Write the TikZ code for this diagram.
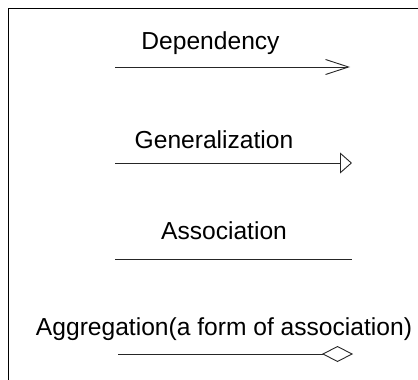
\documentclass[tikz,border=0pt]{standalone}
\usepackage{fontspec}
\setmainfont{Liberation Sans}
\usetikzlibrary{arrows.meta}
\begin{document}
\begin{tikzpicture}[x=1pt,y=-1pt,
  label/.style={anchor=base,inner sep=0pt,font=\fontsize{24.6}{29}\selectfont},
  rel/.style={line width=0.9pt,draw=black!85},
  deptip/.style={-{Straight Barb[length=23pt,width=15pt,line width=0.9pt]}},
  gentip/.style={-{Triangle[open,length=12pt,width=21pt,line width=0.9pt]}},
  aggtip/.style={-{Diamond[open,length=31pt,width=16pt,line width=0.9pt]}}]
  \useasboundingbox (0,0) rectangle (418,380);
  \fill[white] (0,0) rectangle (418,380);
  % frame: only its left and top sides fall inside the page
  \draw[line width=1pt] (8.5,390) -- (8.5,8) -- (430,8);

  % Dependency
  \node[label] (dep) at (210.5,49) {Dependency};
  \coordinate (depA) at (115,67);
  \coordinate (depB) at (350,67);
  \draw[rel,deptip] (depA) -- (depB);

  % Generalization
  \node[label] (gen) at (214,148) {Generalization};
  \coordinate (genA) at (115,163);
  \coordinate (genB) at (352,163);
  \draw[rel,gentip] (genA) -- (genB);

  % Association
  \node[label] (assoc) at (224,239) {Association};
  \coordinate (assocA) at (115,259);
  \coordinate (assocB) at (352,259);
  \draw[rel] (assocA) -- (assocB);

  % Aggregation
  \node[label] (agg) at (224,335) {Aggregation(a form of association)};
  \coordinate (aggA) at (118,354);
  \coordinate (aggB) at (353,354);
  \draw[rel,aggtip] (aggA) -- (aggB);
\end{tikzpicture}
\end{document}
